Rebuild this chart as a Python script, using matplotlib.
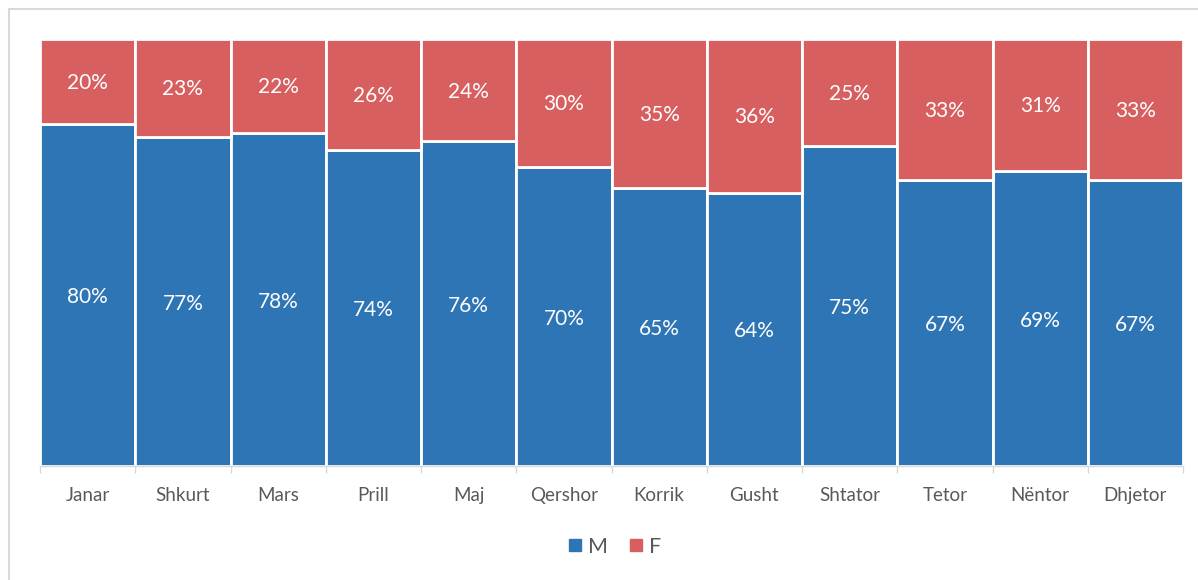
import numpy as np
import matplotlib.pyplot as plt
import matplotlib.patches as mpatches
from matplotlib.lines import Line2D

plt.rcParams["font.family"] = ["Lato", "DejaVu Sans"]

months = ["Janar", "Shkurt", "Mars", "Prill", "Maj", "Qershor",
          "Korrik", "Gusht", "Shtator", "Tetor", "Nëntor", "Dhjetor"]
m_share = [80, 77, 78, 74, 76, 70, 65, 64, 75, 67, 69, 67]
f_share = [20, 23, 22, 26, 24, 30, 35, 36, 25, 33, 31, 33]

BLUE = "#2E75B6"
RED = "#D75F5F"
GREY = "#595959"

fig = plt.figure(figsize=(11.98, 5.8), dpi=100)
ax = fig.add_axes([40 / 1198, 1 - 466 / 580, 1143 / 1198, 427 / 580])

# chart frame (light grey border)
fig.patches.append(mpatches.Rectangle((9 / 1198, -0.01), 1.2, 1 - 9 / 580 + 0.01,
                                      transform=fig.transFigure, fill=False,
                                      edgecolor="#D9D9D9", linewidth=1.5))

x = np.arange(len(months))
ax.bar(x, m_share, width=1.0, color=BLUE, edgecolor="white", linewidth=2)
ax.bar(x, f_share, width=1.0, bottom=m_share, color=RED,
       edgecolor="white", linewidth=2)

for i in range(len(months)):
    ax.text(x[i], m_share[i] / 2 - 0.5, f"{m_share[i]}%", ha="center", va="center",
            color="white", fontsize=15)
    ax.text(x[i], m_share[i] + f_share[i] / 2 - 0.3, f"{f_share[i]}%", ha="center",
            va="center", color="white", fontsize=15)

ax.set_xlim(-0.5, len(months) - 0.5)
ax.set_ylim(0, 100)
ax.set_yticks([])
ax.set_xticks(x)
ax.set_xticklabels(months, fontsize=13.5, color=GREY)
ax.tick_params(axis="x", which="major", length=0, pad=15)
ax.set_xticks(np.arange(-0.5, len(months)), minor=True)
ax.tick_params(axis="x", which="minor", length=5, color="#D9D9D9", width=1)
for side in ["top", "right", "left"]:
    ax.spines[side].set_visible(False)
ax.spines["bottom"].set_color("#D9D9D9")
ax.spines["bottom"].set_linewidth(1)

legend_items = [
    Line2D([0], [0], marker="s", linestyle="none", markersize=8,
           markerfacecolor=BLUE, markeredgecolor=BLUE, label="M"),
    Line2D([0], [0], marker="s", linestyle="none", markersize=8,
           markerfacecolor=RED, markeredgecolor=RED, label="F"),
]
fig.legend(handles=legend_items, loc="center", bbox_to_anchor=(614 / 1198, 1 - 547 / 580),
           ncol=2, frameon=False, fontsize=15.5, labelcolor=GREY,
           handletextpad=0.2, columnspacing=0.9, handlelength=0.8)

fig.savefig("out.png", dpi=100)
